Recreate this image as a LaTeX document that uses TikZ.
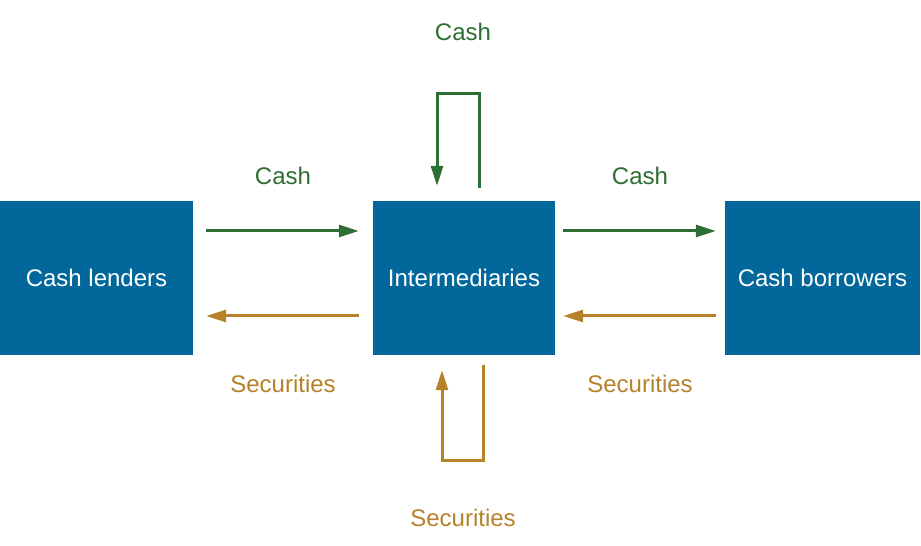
\documentclass[tikz,border=0pt]{standalone}
\usepackage{fontspec}
\setmainfont{Liberation Sans}
\usetikzlibrary{arrows.meta}
\definecolor{boxblue}{HTML}{02679A}
\definecolor{cashgreen}{HTML}{2D6E35}
\definecolor{secbrown}{HTML}{B5822A}
\tikzset{
  box/.style={fill=boxblue, text=white, minimum height=154pt, inner sep=0pt, font=\fontsize{24}{28}\selectfont},
  gline/.style={draw=cashgreen, line width=3pt, -{Triangle[length=20pt,width=12pt]}},
  bline/.style={draw=secbrown, line width=3pt, -{Triangle[length=20pt,width=12pt]}},
  glbl/.style={text=cashgreen, font=\fontsize{24}{28}\selectfont},
  blbl/.style={text=secbrown, font=\fontsize{24}{28}\selectfont}
}
\begin{document}
\begin{tikzpicture}[x=1pt,y=1pt]
  \useasboundingbox (0,0) rectangle (921,546);

  \node[box, minimum width=193pt] (lend) at (96.5,268) {Cash lenders};
  \node[box, minimum width=182pt] (inter) at (464,268) {Intermediaries};
  \node[box, minimum width=195pt] (borr) at (822.5,268) {Cash borrowers};

  % cash flows
  \draw[gline, shorten <=13pt, shorten >=14pt] ([yshift=47pt]lend.east) -- ([yshift=47pt]inter.west);
  \draw[gline, shorten <=8pt, shorten >=9pt] ([yshift=47pt]inter.east) -- ([yshift=47pt]borr.west);
  \draw[gline] ([xshift=15pt,yshift=13pt]inter.north) -- ++(0,94pt) -| ([xshift=-27pt,yshift=15pt]inter.north);

  % securities flows
  \draw[bline, shorten <=14pt, shorten >=13pt] ([yshift=-38pt]inter.west) -- ([yshift=-38pt]lend.east);
  \draw[bline, shorten <=9pt, shorten >=8pt] ([yshift=-38pt]borr.west) -- ([yshift=-38pt]inter.east);
  \draw[bline] ([xshift=19pt,yshift=-10pt]inter.south) -- ++(0,-95pt) -| ([xshift=-22pt,yshift=-15pt]inter.south);

  \node[glbl] (c1) at (283,370) {Cash};
  \node[glbl] (c2) at (640,370) {Cash};
  \node[glbl] (c3) at (463,514) {Cash};
  \node[blbl] (s1) at (283,162) {Securities};
  \node[blbl] (s2) at (640,162) {Securities};
  \node[blbl] (s3) at (463,28) {Securities};
\end{tikzpicture}
\end{document}
